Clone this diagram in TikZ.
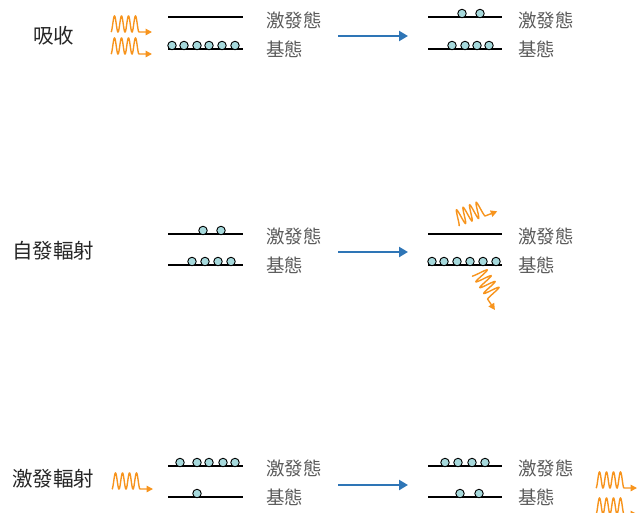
\documentclass[tikz,border=0pt]{standalone}
\usepackage{fontspec}
\setmainfont{Noto Sans CJK TC}
\usetikzlibrary{arrows.meta}
\definecolor{orangeph}{HTML}{F7941D}
\definecolor{bluearr}{HTML}{2E75B6}
\definecolor{dotfill}{HTML}{A6D9DC}
\definecolor{lblgray}{HTML}{595959}
\begin{document}
\begin{tikzpicture}[x=1pt,y=-1pt,
 level/.style={line width=2pt,black},
 atom/.style={circle,draw=black,line width=0.9pt,fill=dotfill,minimum size=8.5pt,inner sep=0pt},
 state/.style={text=lblgray,font=\fontsize{18.5}{20}\selectfont,anchor=west,inner sep=0pt},
 proc/.style={text=black!85,font=\fontsize{20.5}{22}\selectfont,anchor=west,inner sep=0pt},
 trans/.style={bluearr,line width=2.5pt,-{Triangle[length=9pt,width=10pt]}},
 photon/.pic={\draw[orangeph,line width=1.4pt,-{Triangle[length=6.5pt,width=6.5pt]}]
   plot[domain=0:28,samples=90,smooth] (\x,{-8*(1-cos(\x*360/7))}) -- (41,0);}
]
\useasboundingbox (0,0) rectangle (639,512);

% ---------------- Row 1: absorption ----------------
\node[proc] (p1) at (33,36) {吸收};
\pic at (111,32) {photon};
\pic at (111,54) {photon};
\coordinate (r1lu0) at (168,17); \coordinate (r1lu1) at (243,17);
\coordinate (r1ll0) at (168,49); \coordinate (r1ll1) at (243,49);
\draw[level] (r1lu0) -- (r1lu1);
\draw[level] (r1ll0) -- (r1ll1);
\foreach \x [count=\i] in {172,184,197,209,222,235}
  \node[atom] (r1la\i) at (\x,45.5) {};
\node[state] (s1le) at (266,20) {激發態};
\node[state] (s1lg) at (266,49) {基態};
\coordinate (t1a) at (338,36); \coordinate (t1b) at (408,36);
\draw[trans] (t1a) -- (t1b);
\coordinate (r1ru0) at (428,17); \coordinate (r1ru1) at (502,17);
\coordinate (r1rl0) at (428,49); \coordinate (r1rl1) at (502,49);
\draw[level] (r1ru0) -- (r1ru1);
\draw[level] (r1rl0) -- (r1rl1);
\foreach \x [count=\i] in {462,480}
  \node[atom] (r1rb\i) at (\x,13.5) {};
\foreach \x [count=\i] in {452,465,477,489}
  \node[atom] (r1ra\i) at (\x,45.5) {};
\node[state] (s1re) at (518,20) {激發態};
\node[state] (s1rg) at (518,49) {基態};

% ---------------- Row 2: spontaneous emission ----------------
\node[proc] (p2) at (12,251) {自發輻射};
\coordinate (r2lu0) at (168,234); \coordinate (r2lu1) at (243,234);
\coordinate (r2ll0) at (168,265); \coordinate (r2ll1) at (243,265);
\draw[level] (r2lu0) -- (r2lu1);
\draw[level] (r2ll0) -- (r2ll1);
\foreach \x [count=\i] in {203,221}
  \node[atom] (r2lb\i) at (\x,230.5) {};
\foreach \x [count=\i] in {192,205,218,231}
  \node[atom] (r2la\i) at (\x,261.5) {};
\node[state] (s2le) at (266,236) {激發態};
\node[state] (s2lg) at (266,265) {基態};
\coordinate (t2a) at (338,252); \coordinate (t2b) at (408,252);
\draw[trans] (t2a) -- (t2b);
\coordinate (r2ru0) at (428,234); \coordinate (r2ru1) at (502,234);
\coordinate (r2rl0) at (428,265); \coordinate (r2rl1) at (502,265);
\draw[level] (r2ru0) -- (r2ru1);
\draw[level] (r2rl0) -- (r2rl1);
\foreach \x [count=\i] in {432,444,457,470,483,496}
  \node[atom] (r2ra\i) at (\x,261.5) {};
\pic[rotate=21] at (459,226) {photon};
\pic[rotate=-56] at (472,276) {photon};
\node[state] (s2re) at (518,236) {激發態};
\node[state] (s2rg) at (518,265) {基態};

% ---------------- Row 3: stimulated emission ----------------
\node[proc] (p3) at (12,479) {激發輻射};
\pic at (112,489) {photon};
\coordinate (r3lu0) at (168,466); \coordinate (r3lu1) at (243,466);
\coordinate (r3ll0) at (168,497); \coordinate (r3ll1) at (243,497);
\draw[level] (r3lu0) -- (r3lu1);
\draw[level] (r3ll0) -- (r3ll1);
\foreach \x [count=\i] in {180,197,209,223,235}
  \node[atom] (r3lb\i) at (\x,462.5) {};
\node[atom] (r3la1) at (197,493.5) {};
\node[state] (s3le) at (266,468) {激發態};
\node[state] (s3lg) at (266,497) {基態};
\coordinate (t3a) at (338,485); \coordinate (t3b) at (408,485);
\draw[trans] (t3a) -- (t3b);
\coordinate (r3ru0) at (428,466); \coordinate (r3ru1) at (502,466);
\coordinate (r3rl0) at (428,497); \coordinate (r3rl1) at (502,497);
\draw[level] (r3ru0) -- (r3ru1);
\draw[level] (r3rl0) -- (r3rl1);
\foreach \x [count=\i] in {445,458,472,485}
  \node[atom] (r3rb\i) at (\x,462.5) {};
\foreach \x [count=\i] in {460,479}
  \node[atom] (r3ra\i) at (\x,493.5) {};
\node[state] (s3re) at (518,468) {激發態};
\node[state] (s3rg) at (518,497) {基態};
\pic at (596,488) {photon};
\begin{scope}
  \clip (580,490) rectangle (639,512);
  \pic at (596,514) {photon};
\end{scope}
\end{tikzpicture}
\end{document}
